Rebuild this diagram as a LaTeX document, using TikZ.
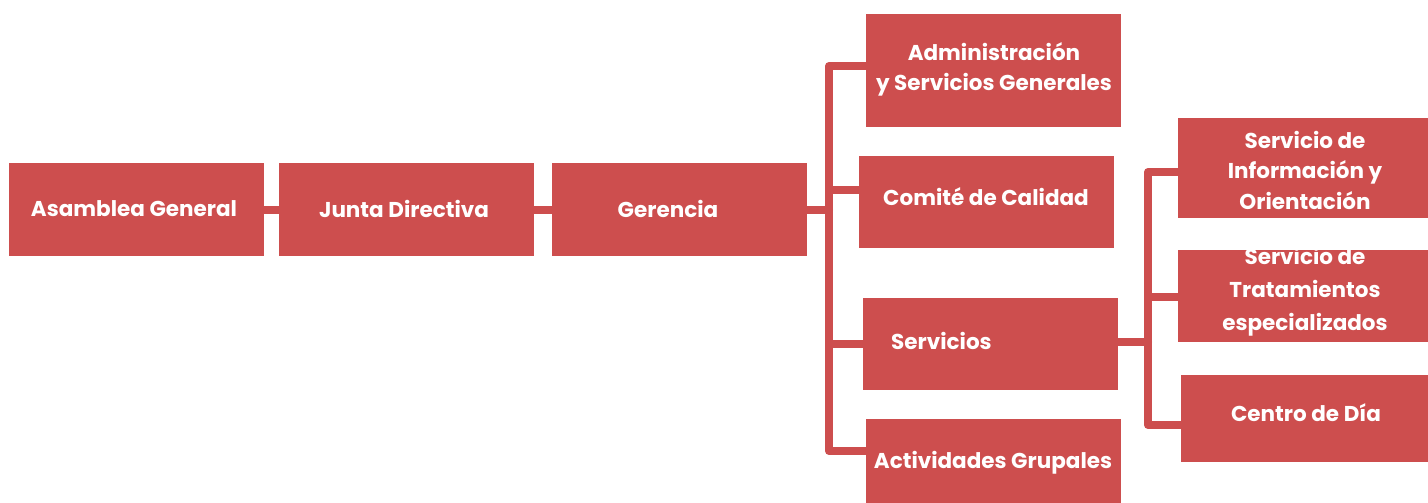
\documentclass[tikz,border=0pt]{standalone}
\usepackage{fontspec}
\setmainfont{Poppins}
\definecolor{boxred}{HTML}{CD4E4E}
\tikzset{
  box/.style={fill=boxred, draw=none, inner sep=0pt},
  lbl/.style={text=white, font=\fontsize{21.5}{30.5}\selectfont\bfseries, align=center, inner sep=0pt},
  conn/.style={draw=boxred, line width=8pt, line cap=round, line join=round}
}
\begin{document}
\begin{tikzpicture}[x=1pt,y=-1pt]
\useasboundingbox (0,0) rectangle (1428,503);
% boxes
\node[box, minimum width=255pt, minimum height=93pt] (ag) at (136.5,209.5) {};
\node[box, minimum width=255pt, minimum height=93pt] (jd) at (406.5,209.5) {};
\node[box, minimum width=255pt, minimum height=93pt] (ge) at (679.5,209.5) {};
\node[box, minimum width=255pt, minimum height=113pt] (adm) at (993.5,70.5) {};
\node[box, minimum width=255pt, minimum height=92pt] (com) at (986.5,202) {};
\node[box, minimum width=255pt, minimum height=92pt] (ser) at (990.5,344) {};
\node[box, minimum width=255pt, minimum height=84pt] (act) at (993.5,461) {};
\node[box, minimum width=250pt, minimum height=100pt] (inf) at (1303,168) {};
\node[box, minimum width=250pt, minimum height=92pt] (tra) at (1303,296) {};
\node[box, minimum width=247pt, minimum height=87pt] (cen) at (1304.5,418.5) {};
% texts
\node[lbl] (ag-t) at (134,209) {Asamblea General};
\node[lbl] (jd-t) at (404,209) {Junta Directiva};
\node[lbl] (ge-t) at (668,209) {Gerencia};
\node[lbl] (adm-t) at (994,69.5) {Administración\\ y Servicios Generales};
\node[lbl] (com-t) at (986,197) {Comité de Calidad};
\node[lbl, anchor=west] (ser-t) at (891,341) {Servicios};
\node[lbl] (act-t) at (993,463) {Actividades Grupales};
\node[lbl] (inf-t) at (1305,170) {Servicio de\\ Información y\\ Orientación};
\node[lbl, font=\fontsize{21.5}{33}\selectfont\bfseries] (tra-t) at (1305,292) {Servicio de\\ Tratamientos\\ especializados};
\node[lbl] (cen-t) at (1306,413) {Centro de Día};
% connectors
\coordinate (t1a) at (829,66);
\coordinate (t1b) at (829,451);
\coordinate (s1) at (1148,342);
\coordinate (t2a) at (1148,172);
\coordinate (t2b) at (1148,425);
\draw[conn] (ag.east) -- (jd.west);
\draw[conn] (jd.east) -- (ge.west);
\draw[conn] (ge.east) -- (ge.east -| t1a);
\draw[conn] (adm.west |- t1a) -- (t1a) -- (t1b) -- (act.west |- t1b);
\draw[conn] (t1a |- 0,190) -- (com.west |- 0,190);
\draw[conn] (t1a |- ser.west) -- (ser.west);
\draw[conn] (ser.east |- s1) -- (s1);
\draw[conn] (inf.west |- t2a) -- (t2a) -- (t2b) -- (cen.west |- t2b);
\draw[conn] (t2a |- 0,297) -- (tra.west |- 0,297);
\end{tikzpicture}
\end{document}
